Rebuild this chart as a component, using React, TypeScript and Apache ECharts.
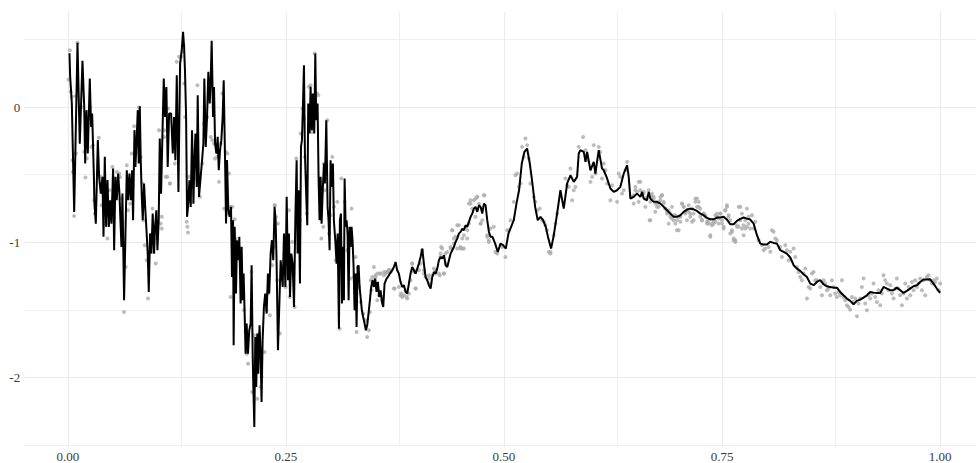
import React, { useEffect, useRef } from "react";
import * as echarts from "echarts";

// Tick labels
const xTickValues = [0, 0.25, 0.5, 0.75, 1];
const yTickValues = [-2, -1, 0];
const xGridValues = [0, 0.125, 0.25, 0.375, 0.5, 0.625, 0.75, 0.875, 1];
const yGridValues = [-2.5, -2, -1.5, -1, -0.5, 0, 0.5];
const xMajor = [0, 0.25, 0.5, 0.75, 1];
const yMajor = [-2, -1, 0];

// Fitted curve, rough (noisy) segment: [x, y]
const roughFit: [number, number][] = [
  [0.0019,0.40],[0.0027,0.224],[0.0046,0.027],[0.0073,-0.775],[0.0111,0.476],[0.0137,-0.27],[0.0168,0.343],[0.0188,0.003],[0.0199,-0.417],[0.0214,-0.022],[0.0229,-0.343],[0.0252,0.212],[0.0267,-0.146],[0.0279,-0.047],[0.0298,-0.491],[0.0305,-0.714],[0.0321,-0.862],[0.0344,-0.244],[0.0359,-0.516],[0.0378,-0.64],[0.0397,-0.516],[0.0409,-0.96],[0.0424,-0.368],[0.0439,-0.886],[0.0455,-0.54],[0.047,-0.886],[0.0485,-0.689],[0.05,-0.862],[0.0519,-0.454],[0.0531,-1.059],[0.0546,-0.516],[0.0561,-0.689],[0.0577,-0.491],[0.0592,-0.64],[0.0603,-0.837],[0.0615,-1.034],[0.0626,-0.64],[0.0645,-1.43],[0.0664,-0.837],[0.0676,-0.467],[0.0691,-0.689],[0.0706,-0.491],[0.0722,-0.689],[0.0737,-0.467],[0.0748,-0.837],[0.0764,-0.17],[0.0775,-0.442],[0.0787,-0.27],[0.0802,-0.022],[0.0813,-0.417],[0.0825,0.007],[0.0836,-0.392],[0.0848,-0.664],[0.0859,-0.837],[0.0874,-0.565],[0.0889,-0.763],[0.0905,-0.948],[0.0916,-1.084],[0.0928,-1.368],[0.0943,-0.935],[0.0958,-1.084],[0.0973,-0.788],[0.0989,-1.084],[0.1,-0.886],[0.1015,-0.763],[0.1027,-1.059],[0.1042,-0.837],[0.1054,-0.232],[0.1069,-0.64],[0.1084,-0.22],[0.11,0.212],[0.1115,-0.072],[0.113,0.15],[0.1145,-0.442],[0.1161,-0.047],
  [0.1184,-0.047],[0.1203,-0.343],[0.1218,-0.072],[0.1233,-0.393],[0.1249,0.237],[0.1268,-0.627],[0.1287,0.323],[0.1306,0.422],[0.1321,0.558],[0.1333,0.447],[0.1344,0.249],[0.1356,-0.072],[0.1367,-0.812],[0.1378,-0.738],[0.1394,-0.541],[0.1409,-0.738],[0.1424,-0.17],[0.144,-0.714],[0.1451,-0.393],[0.1463,-0.195],[0.1478,-0.59],[0.1489,0.089],[0.1504,-0.664],[0.1523,-0.516],[0.1539,-0.393],[0.1554,-0.269],[0.1565,0.212],[0.1581,-0.294],[0.1596,-0.072],[0.1611,0.262],[0.1627,0.027],[0.1638,0.2],[0.1649,0.491],[0.1665,-0.072],[0.1676,0.15],[0.1688,-0.269],[0.1703,-0.343],[0.1718,-0.22],[0.173,-0.467],[0.1745,-0.318],[0.176,-0.244],[0.1775,-0.072],[0.1787,0.2],[0.1802,-0.368],[0.1814,-0.862],[0.1825,-0.392],[0.184,-0.763],[0.1855,-0.812],[0.1871,-0.738],[0.1882,-1.257],[0.1894,-0.837],[0.1901,-1.763],[0.1913,-0.886],[0.1928,-1.38],[0.1939,-0.985],[0.1955,-1.133],[0.1966,-0.96],[0.1981,-1.454],[0.1993,-1.034],[0.2004,-1.43],[0.2015,-1.232],[0.2027,-1.528],[0.2038,-1.825],[0.205,-1.602],[0.2065,-1.825],[0.208,-1.652],[0.2096,-1.602],[0.2107,-1.17],[0.2119,-1.825],[0.2126,-2.047],[0.2138,-2.368],[0.2149,-1.701],[0.216,-2.072],[0.2172,-1.676],[0.2183,-1.973],[0.2198,-1.615],[0.221,-1.825],[0.2221,-2.183],[0.2233,-1.726],[0.2248,-1.479],[0.2263,-1.38],[0.2279,-1.528],[0.2294,-1.232],[0.2309,-1.38],[0.2325,-1.084],[0.234,-0.985],[0.2355,-1.133],[0.237,-0.738],[0.2382,-0.837],[0.2393,-1.133],[0.2409,-1.8],
  [0.244,-1.133],[0.2463,-1.331],[0.2478,-0.936],[0.2494,-1.331],[0.2509,-0.664],[0.2524,-1.281],[0.2535,-0.936],[0.2547,-1.405],[0.2562,-1.084],[0.2577,-1.158],[0.2593,-1.479],[0.2608,-0.837],[0.2623,-0.393],[0.2634,-1.084],[0.2646,-0.615],[0.2661,-1.306],[0.2673,-0.294],[0.2684,-0.244],[0.2695,0.002],[0.2707,0.311],[0.2718,-0.343],[0.273,-0.59],[0.2745,-0.874],[0.2756,0.027],[0.2772,-0.195],[0.2783,0.151],[0.2798,-0.17],[0.281,0.101],[0.2825,-0.195],[0.2837,0.397],[0.2848,-0.096],[0.2863,0.027],[0.2875,-0.541],[0.2886,-0.837],[0.2898,-0.516],[0.2909,-0.862],[0.2924,-0.59],[0.2936,-0.417],[0.2947,-0.565],[0.2963,-0.096],[0.2978,-0.738],[0.2989,-0.837],[0.3001,-1.059],[0.3012,-0.393],[0.3028,-0.59],[0.3039,-0.417],[0.305,-0.837],[0.3066,-0.985],[0.3081,-1.158],[0.3093,-0.936],[0.3108,-1.64],[0.3119,-0.837],[0.3131,-0.788],[0.3142,-1.454],[0.3154,-1.034],[0.3165,-1.43],[0.3173,-0.528],[0.3185,-0.886],[0.3196,-0.837],[0.3207,-0.936],[0.3219,-1.43],[0.323,-0.886],[0.3242,-1.034],[0.3253,-0.886],[0.3264,-0.985],[0.3276,-1.183],[0.3287,-1.504],[0.3299,-1.232],[0.331,-1.627],[0.3322,-1.183],[0.3333,-1.17],[0.3345,-1.331],[0.3356,-1.405],[0.3371,-1.504],[0.3386,-1.553],[0.3402,-1.602],[0.3417,-1.652],[0.3432,-1.615],[0.3447,-1.528],[0.3463,-1.43],[0.3478,-1.331],[0.3493,-1.281],[0.3509,-1.331],[0.3524,-1.269],[0.3539,-1.368],[0.3554,-1.294],[0.357,-1.405],[0.3585,-1.356]
];

// Fitted curve, smooth segment: [x, y]
const smoothFit: [number, number][] = [
  [0.3604,-1.454],[0.3616,-1.479],[0.3631,-1.306],[0.3654,-1.269],[0.3669,-1.257],[0.3692,-1.232],[0.3719,-1.207],[0.3738,-1.183],[0.3757,-1.146],[0.3776,-1.207],[0.3795,-1.232],[0.3814,-1.294],[0.3834,-1.331],[0.3853,-1.319],[0.3872,-1.368],[0.3891,-1.38],[0.391,-1.306],[0.3929,-1.232],[0.3948,-1.183],[0.3967,-1.207],[0.3987,-1.232],[0.4006,-1.195],[0.4025,-1.158],[0.4044,-1.109],[0.4063,-1.047],[0.4082,-1.158],[0.4101,-1.257],[0.412,-1.281],[0.414,-1.319],[0.4159,-1.343],[0.4178,-1.257],[0.4197,-1.22],[0.4216,-1.232],[0.4235,-1.195],[0.4254,-1.133],[0.4273,-1.109],[0.4292,-1.121],[0.4312,-1.096],[0.4331,-1.17],[0.435,-1.183],[0.4369,-1.133],[0.4388,-1.084],[0.4407,-1.059],[0.4426,-1.035],[0.4445,-0.998],[0.4464,-0.973],[0.4483,-0.936],[0.4503,-0.923],[0.4522,-0.899],[0.4541,-0.911],[0.456,-0.874],[0.4579,-0.886],[0.4598,-0.849],[0.4617,-0.812],[0.4636,-0.788],[0.4655,-0.751],[0.4674,-0.738],[0.4694,-0.775],[0.4713,-0.726],[0.4732,-0.738],[0.4751,-0.788],[0.477,-0.714],[0.4789,-0.726],[0.4808,-0.837],[0.4827,-0.923],[0.4846,-0.96],
  [0.4868,-0.96],[0.4899,-1.01],[0.4929,-1.072],[0.496,-1.01],[0.499,-1.022],[0.5021,-1.047],[0.5051,-0.936],[0.5082,-0.886],[0.5112,-0.837],[0.5143,-0.714],[0.5173,-0.615],[0.5204,-0.417],[0.5234,-0.331],[0.5265,-0.306],[0.5296,-0.417],[0.5326,-0.565],[0.5357,-0.738],[0.5387,-0.837],[0.5418,-0.812],[0.5448,-0.837],[0.5479,-0.886],[0.5509,-0.973],[0.554,-1.047],
  [0.5571,-0.948],[0.5609,-0.788],[0.5647,-0.615],[0.5685,-0.751],[0.5724,-0.565],[0.5762,-0.504],[0.58,-0.553],[0.5838,-0.516],[0.5857,-0.343],[0.5876,-0.318],[0.5915,-0.331],[0.5934,-0.405],[0.5953,-0.331],[0.5991,-0.467],[0.6029,-0.405],[0.6048,-0.491],[0.6086,-0.318],[0.6124,-0.454],[0.6144,-0.467],[0.6182,-0.528],[0.622,-0.602],[0.6258,-0.627],[0.6296,-0.615],[0.6334,-0.59],[0.6373,-0.491],[0.6411,-0.43],[0.643,-0.516],[0.6449,-0.677],[0.6487,-0.664],[0.6525,-0.64],[0.6564,-0.664],[0.6583,-0.627],[0.6602,-0.677],[0.664,-0.689],[0.6659,-0.627],[0.6678,-0.677],[0.6716,-0.701],[0.6754,-0.701],[0.6793,-0.714],[0.6831,-0.738],[0.6869,-0.763],[0.6907,-0.788],[0.6945,-0.812],[0.6983,-0.812],[0.7022,-0.8],[0.706,-0.775],[0.7098,-0.758],[0.7136,-0.751],[0.7174,-0.756],[0.7213,-0.768],[0.7251,-0.788],[0.7289,-0.8],[0.7327,-0.82],[0.7365,-0.83],[0.7403,-0.83],[0.7442,-0.817],[0.748,-0.817],[0.7518,-0.812],[0.7556,-0.832],[0.7594,-0.867],[0.7632,-0.867],[0.7671,-0.842],[0.7709,-0.827],[0.7747,-0.817],[0.7785,-0.825],[0.7823,-0.832],
  [0.7862,-0.862],[0.79,-0.948],[0.7938,-1.01],[0.7976,-1.017],[0.8014,-1.017],[0.8053,-0.997],[0.8091,-1.005],[0.8129,-1.01],[0.8167,-1.059],[0.8205,-1.071],[0.8243,-1.084],[0.8282,-1.113],[0.832,-1.17],[0.8358,-1.195],[0.8396,-1.212],[0.8434,-1.237],[0.8473,-1.257],[0.8511,-1.306],[0.8549,-1.318],[0.8587,-1.294],[0.8625,-1.281],[0.8663,-1.311],[0.8702,-1.326],[0.874,-1.331],[0.8778,-1.336],[0.8816,-1.336],[0.8854,-1.368],[0.8892,-1.393],[0.8931,-1.417],[0.8969,-1.434],[0.9007,-1.459],[0.9045,-1.434],[0.9083,-1.425],[0.9122,-1.41],[0.916,-1.393],[0.9198,-1.368],[0.9236,-1.373],[0.9274,-1.375],[0.9313,-1.375],[0.9351,-1.331],[0.9389,-1.343],[0.9427,-1.355],[0.9465,-1.355],[0.9503,-1.336],[0.9542,-1.355],[0.958,-1.375],[0.9618,-1.36],[0.9656,-1.343],[0.9694,-1.326],[0.9733,-1.318],[0.9771,-1.294],[0.9809,-1.276],[0.9847,-1.276],[0.9885,-1.274],[0.9924,-1.306],[0.9962,-1.343],[1.0,-1.375]
];

// Observations, rough segment: [x, y]
const obsRough: [number, number][] = [
  [0.0023,0.422],[0.0008,0.205],[0.0034,0.114],[0.0046,0.077],[0.0053,-0.393],[0.0057,-0.479],[0.0072,-0.805],[0.0092,-0.343],[0.0092,0.082],[0.0111,0.477],[0.0156,0.002],[0.0187,-0.331],[0.0202,-0.521],[0.0218,-0.38],[0.0256,0.002],[0.0271,-0.294],[0.029,-0.281],[0.0302,-0.689],[0.0309,-0.788],[0.0355,-0.227],[0.0378,-0.516],[0.0386,-0.726],[0.0416,-0.541],[0.0435,-0.862],[0.0454,-0.973],[0.0473,-0.615],[0.0511,-0.442],[0.0531,-0.64],[0.0561,-0.479],[0.0588,-0.491],[0.0599,-0.516],[0.0618,-0.676],[0.0626,-0.849],[0.0645,-1.516],[0.0664,-1.183],[0.0676,-0.43],[0.0691,-0.763],[0.0714,-0.714],[0.0733,-0.343],[0.076,-0.141],[0.0779,-0.343],[0.0817,-0.002],[0.0836,-0.368],[0.0855,-0.565],[0.0867,-0.837],[0.0882,-1.022],[0.0905,-1.133],[0.092,-1.417],[0.0951,-0.948],[0.097,-0.751],[0.1008,-1.158],[0.1027,-0.973],[0.1046,-0.17],[0.1065,-0.862],[0.1103,-0.22],[0.1122,-0.516],[0.1149,-0.01],[0.1172,-0.565],
  [0.1077,-0.812],[0.1077,-0.899],[0.1104,-0.17],[0.1142,-0.516],[0.1169,-0.565],[0.1226,-0.417],[0.1249,0.336],[0.1275,0.373],[0.1302,0.373],[0.1314,0.41],[0.1333,0.175],[0.1344,-0.072],[0.1363,-0.849],[0.1371,-0.886],[0.1378,-0.928],[0.139,-0.516],[0.1409,-0.701],[0.1447,-0.393],[0.1478,-0.528],[0.1485,0.163],[0.1516,-0.664],[0.1543,-0.417],[0.1562,-0.121],[0.16,-0.072],[0.1638,-0.22],[0.1657,-0.244],[0.1676,-0.269],[0.1688,-0.38],[0.1714,-0.368],[0.1733,-0.553],[0.1753,-0.269],[0.1772,0.101],[0.181,-0.331],[0.1829,-0.343],[0.1848,-0.491],[0.1791,-0.751],[0.1829,-0.788],[0.1867,-0.738],[0.1867,-1.405],[0.1886,-0.738],[0.1913,-0.83],[0.1924,-0.973],[0.1951,-1.059],[0.1974,-1.084],[0.2001,-1.244],[0.202,-1.504],[0.2039,-1.664],[0.2051,-1.825],[0.2066,-1.899],[0.2104,-1.22],[0.2115,-2.109],[0.2134,-1.689],[0.2172,-2.158],[0.2195,-1.676],[0.221,-2.072],[0.2221,-1.998],[0.2256,-1.812],[0.2279,-1.504],[0.2294,-1.38],[0.2317,-1.541],[0.2344,-1.17],[0.2363,-1.034],[0.2374,-0.726],[0.2386,-0.812],[0.2401,-1.281],
  [0.2371,-0.726],[0.2409,-0.862],[0.243,-1.676],[0.2478,-1.306],[0.2497,-1.331],[0.2535,-0.763],[0.2543,-1.405],[0.2573,-0.998],[0.26,-1.479],[0.2619,-0.38],[0.263,-0.64],[0.2661,-0.837],[0.2669,-0.195],[0.2688,-0.01],[0.2707,-0.084],[0.2715,-0.368],[0.2738,-0.788],[0.2764,0.151],[0.2783,0.163],[0.2802,-0.183],[0.2829,0.397],[0.2859,0.101],[0.2871,0.089],[0.2906,-0.973],[0.2928,-0.886],[0.2936,-0.417],[0.2947,-0.615],[0.2974,-0.096],[0.2993,-0.936],[0.3012,-0.8],[0.3032,-0.368],[0.3051,-0.738],[0.307,-1.133],[0.3089,-0.701],[0.3116,-1.64],[0.3135,-0.528],[0.315,-1.059],[0.3173,-0.701],[0.3204,-1.059],[0.3242,-1.269],[0.3253,-0.751],[0.328,-1.257],[0.3299,-1.109],[0.331,-1.664],[0.3326,-1.183],[0.3337,-1.331],[0.3356,-1.442],[0.3386,-1.528],[0.3413,-1.578],[0.3432,-1.701],[0.3451,-1.652],[0.3463,-1.516],[0.3478,-1.356],[0.3509,-1.281],[0.3528,-1.257],[0.3547,-1.43],[0.3577,-1.232],[0.3604,-1.43],[0.3623,-1.244],[0.3661,-1.22],[0.3684,-1.207]
];

// Observations, smooth segment: [x, y]
const obsSmooth: [number, number][] = [
  [0.3585,-1.232],[0.3624,-1.22],[0.3654,-1.22],[0.3681,-1.207],[0.37,-1.22],[0.3746,-1.343],[0.3795,-1.331],[0.3822,-1.38],[0.3853,-1.393],[0.3883,-1.405],[0.391,-1.38],[0.3948,-1.158],[0.3967,-1.207],[0.3986,-1.343],[0.4044,-1.158],[0.4082,-1.232],[0.4139,-1.244],[0.4158,-1.306],[0.4196,-1.195],[0.4215,-1.232],[0.4265,-1.244],[0.428,-1.035],[0.4311,-1.232],[0.433,-1.084],[0.4273,-1.084],[0.4349,-1.072],[0.4387,-1.035],[0.4406,-0.911],[0.4426,-1.01],[0.4464,-1.047],[0.4502,-1.035],[0.4521,-1.047],[0.454,-0.948],[0.4559,-0.886],[0.4578,-0.973],[0.4597,-0.714],[0.4616,-0.689],[0.4654,-0.689],[0.4673,-0.812],[0.4692,-0.664],[0.4731,-0.862],[0.4776,-0.652],[0.4807,-0.948],[0.4826,-0.985],[0.4845,-0.899],[0.4883,-0.886],[0.4902,-1.072],[0.4922,-1.084],[0.4979,-1.035],[0.5017,-1.109],[0.5036,-0.911],[0.5055,-0.911],[0.5074,-0.837],[0.5112,-0.701],[0.5131,-0.504],[0.515,-0.491],[0.517,-0.59],[0.5189,-0.565],[0.5208,-0.294],[0.5227,-0.368],[0.5246,-0.232],[0.5265,-0.281],[0.5284,-0.38],[0.5303,-0.565],[0.5342,-0.664],[0.5361,-0.701],[0.538,-0.763],[0.541,-0.751],[0.5437,-0.837],[0.5456,-0.849],[0.5475,-0.874],[0.5494,-0.911],[0.5513,-1.072],[0.5532,-1.084],[0.5571,-0.948],[0.559,-0.862],[0.5609,-0.788],
  [0.5533,-1.072],[0.5705,-0.528],[0.5724,-0.578],[0.5743,-0.59],[0.5762,-0.454],[0.5781,-0.689],[0.58,-0.615],[0.5819,-0.59],[0.5857,-0.294],[0.5907,-0.22],[0.5934,-0.318],[0.5953,-0.393],[0.5991,-0.553],[0.601,-0.516],[0.6029,-0.281],[0.6048,-0.491],[0.6086,-0.294],[0.6105,-0.331],[0.6124,-0.528],[0.6144,-0.417],[0.6163,-0.467],[0.6182,-0.565],[0.622,-0.689],[0.6239,-0.578],[0.6296,-0.701],[0.6315,-0.491],[0.6334,-0.516],[0.6392,-0.467],[0.6411,-0.405],[0.6468,-0.664],[0.6487,-0.714],[0.6506,-0.59],[0.6525,-0.627],[0.6544,-0.701],[0.6564,-0.553],[0.6602,-0.627],[0.6621,-0.738],[0.664,-0.664],[0.6678,-0.837],[0.6697,-0.664],[0.6716,-0.677],[0.6754,-0.714],[0.6774,-0.738],[0.6793,-0.664],[0.6812,-0.652],[0.6831,-0.701],[0.685,-0.751],[0.6869,-0.775],[0.6888,-0.862],[0.6907,-0.812],[0.6926,-0.738],[0.6945,-0.837],[0.6964,-0.8],[0.6983,-0.911],[0.7003,-0.812],[0.7022,-0.849],[0.7041,-0.714],[0.706,-0.738],[0.7079,-0.788],[0.7098,-0.837],[0.7117,-0.775],[0.7136,-0.788],[0.7155,-0.751],[0.7174,-0.837],[0.7194,-0.677],[0.7213,-0.738],[0.7232,-0.701],[0.7251,-0.812],[0.727,-0.837],[0.7289,-0.788],[0.7308,-0.8],[0.7327,-0.849],[0.7346,-0.862],[0.7365,-0.96],[0.7384,-0.862],[0.7403,-0.837],[0.7423,-0.849],[0.7442,-0.812],[0.7461,-0.862],[0.748,-0.788],[0.7499,-0.837],[0.7518,-0.886],[0.7537,-0.763],[0.7556,-0.738],[0.7575,-0.812],[0.7594,-0.936],[0.7613,-0.911],[0.7632,-0.985],[0.7652,-0.998],[0.7671,-0.886],[0.769,-0.886],[0.7709,-0.738],[0.7728,-0.899],[0.7747,-0.948],[0.7766,-0.837],[0.7785,-0.886],[0.7804,-0.862],[0.7823,-0.899],
  [0.7843,-0.8],[0.7862,-0.899],[0.7881,-0.849],[0.7919,-0.985],[0.7957,-1.022],[0.7976,-1.059],[0.7995,-1.047],[0.8034,-1.035],[0.8053,-1.071],[0.8072,-0.911],[0.8091,-0.923],[0.811,-0.973],[0.8129,-0.985],[0.8167,-1.035],[0.8186,-1.109],[0.8225,-1.022],[0.8244,-1.059],[0.8263,-1.133],[0.8282,-1.071],[0.832,-1.047],[0.8339,-1.109],[0.8358,-1.183],[0.8377,-1.22],[0.8396,-1.257],[0.8415,-1.281],[0.8434,-1.232],[0.8454,-1.195],[0.8473,-1.417],[0.8492,-1.331],[0.8511,-1.343],[0.853,-1.232],[0.8549,-1.22],[0.8568,-1.281],[0.8587,-1.281],[0.8625,-1.331],[0.8645,-1.393],[0.8664,-1.281],[0.8683,-1.306],[0.8702,-1.355],[0.8721,-1.343],[0.874,-1.393],[0.8759,-1.281],[0.8778,-1.331],[0.8797,-1.38],[0.8816,-1.405],[0.8836,-1.368],[0.8855,-1.393],[0.8874,-1.281],[0.8893,-1.405],[0.8912,-1.43],[0.8931,-1.467],[0.895,-1.479],[0.8969,-1.499],[0.8988,-1.405],[0.9007,-1.442],[0.9027,-1.417],[0.9046,-1.548],[0.9065,-1.454],[0.9084,-1.417],[0.9103,-1.331],[0.9122,-1.269],[0.9141,-1.454],[0.916,-1.504],[0.9179,-1.393],[0.9198,-1.417],[0.9218,-1.38],[0.9237,-1.306],[0.9256,-1.405],[0.9275,-1.442],[0.9294,-1.355],[0.9313,-1.467],[0.9332,-1.38],[0.9351,-1.244],[0.937,-1.281],[0.9389,-1.306],[0.9409,-1.355],[0.9428,-1.318],[0.9447,-1.38],[0.9466,-1.417],[0.9485,-1.343],[0.9504,-1.269],[0.9523,-1.343],[0.9542,-1.393],[0.9561,-1.467],[0.958,-1.38],[0.96,-1.306],[0.9619,-1.417],[0.9638,-1.331],[0.9657,-1.393],[0.9676,-1.294],[0.9695,-1.355],[0.9714,-1.281],[0.9733,-1.331],[0.9752,-1.306],[0.9771,-1.269],[0.9791,-1.355],[0.981,-1.281],[0.9829,-1.393],[0.9848,-1.257],[0.9867,-1.244],[0.9886,-1.281],[0.9905,-1.306],[0.9924,-1.281],[0.9943,-1.294],[0.9962,-1.269],[0.9982,-1.355],[1.0,-1.306]
];

// Extra observations read from closer views: [x, y]
const obsRise: [number, number][] = [
  [0.3471,-1.281],[0.349,-1.257],[0.3509,-1.183],[0.3528,-1.244],[0.3547,-1.232],[0.3566,-1.393],[0.3604,-1.405],[0.3643,-1.232],[0.3662,-1.22],[0.3681,-1.207],[0.3708,-1.207],[0.3738,-1.343],[0.3814,-1.393],[0.3834,-1.405],[0.3872,-1.356],[0.3891,-1.417],[0.3929,-1.281],[0.3948,-1.158],[0.3967,-1.22],[0.3987,-1.343],[0.4025,-1.207],[0.4063,-1.059],[0.4082,-1.207],[0.4101,-1.257],[0.414,-1.269],[0.4178,-1.244],[0.4216,-1.207],[0.4254,-1.232],[0.4273,-1.109],[0.4292,-1.047],[0.4312,-1.232],[0.4331,-1.158],[0.4388,-1.047],[0.4407,-0.911],[0.4426,-0.973],[0.4445,-0.96],[0.4464,-0.874],[0.4483,-0.874],[0.4503,-1.047],[0.4522,-0.973],[0.4541,-1.047],[0.4579,-0.911],[0.4598,-0.862],[0.4617,-0.714],[0.4636,-0.751],[0.4674,-0.677],[0.4694,-0.664],[0.4713,-0.714],[0.4732,-0.862],[0.4751,-0.837],[0.477,-0.652],[0.4808,-0.96],[0.4827,-0.998]
];

const obsPlateau: [number, number][] = [
  [0.6353,-0.64],[0.6372,-0.615],[0.6487,-0.652],[0.6506,-0.615],[0.6544,-0.553],[0.6563,-0.615],[0.6582,-0.652],[0.6601,-0.64],[0.662,-0.677],[0.6659,-0.615],[0.667,-0.837],[0.6678,-0.701],[0.6697,-0.64],[0.6716,-0.664],[0.6735,-0.714],[0.6735,-0.775],[0.6754,-0.738],[0.6773,-0.701],[0.6792,-0.689],[0.6811,-0.652],[0.6831,-0.714],[0.685,-0.751],[0.6869,-0.788],[0.6888,-0.763],[0.6907,-0.788],[0.6926,-0.825],[0.6945,-0.8],[0.6964,-0.862],[0.6983,-0.837],[0.7003,-0.911],[0.7022,-0.812],[0.7041,-0.714],[0.706,-0.738],[0.7079,-0.775],[0.7098,-0.763],[0.7117,-0.726],[0.7136,-0.812],[0.7155,-0.849],[0.7174,-0.788],[0.7194,-0.701],[0.7213,-0.677],[0.7232,-0.738],[0.7251,-0.751],[0.727,-0.837],[0.7289,-0.788],[0.7308,-0.812],[0.7327,-0.862],[0.7346,-0.837],[0.7365,-0.948],[0.7384,-0.874],[0.7404,-0.862],[0.7423,-0.8],[0.7442,-0.788],[0.7461,-0.825],[0.748,-0.788],[0.7499,-0.862],[0.7518,-0.899],[0.7537,-0.763],[0.7556,-0.726],[0.7575,-0.8],[0.7594,-0.837],[0.7613,-0.923],[0.7633,-0.973],[0.7652,-0.985],[0.7671,-0.874],[0.769,-0.738],[0.7709,-0.837],[0.7728,-0.788],[0.7747,-0.874],[0.7766,-0.899],[0.7785,-0.751],[0.7804,-0.812]
];

const FONT = "'Liberation Serif', 'DejaVu Serif', serif";

export default function App() {
  const ref = useRef<HTMLDivElement>(null);
  useEffect(() => {
    if (!ref.current) return;
    const chart = echarts.init(ref.current, undefined, { renderer: "svg" });
    const gridLineData = [
      ...xGridValues.map((v) => ({
        xAxis: v,
        lineStyle: { color: "#ebebeb", width: xMajor.includes(v) ? 1.1 : 0.8, type: "solid" as const },
      })),
      ...yGridValues.map((v) => ({
        yAxis: v,
        lineStyle: { color: "#ebebeb", width: yMajor.includes(v) ? 1.1 : 0.8, type: "solid" as const },
      })),
    ];
    chart.setOption({
      animation: false,
      backgroundColor: "#ffffff",
      grid: { left: 24.2, right: 0, top: 12.1, bottom: 15.9, containLabel: false },
      xAxis: {
        type: "value",
        min: -0.05,
        max: 1.0411,
        axisLine: { show: false },
        axisTick: { show: false },
        splitLine: { show: false },
        axisLabel: {
          customValues: xTickValues,
          formatter: (v: number) => v.toFixed(2),
          fontFamily: FONT,
          fontSize: 13,
          color: "#3a3a3a",
          margin: 3,
        },
      },
      yAxis: {
        type: "value",
        min: -2.516,
        max: 0.704,
        axisLine: { show: false },
        axisTick: { show: false },
        splitLine: { show: false },
        axisLabel: {
          customValues: yTickValues,
          formatter: (v: number) => String(Math.round(v)),
          fontFamily: FONT,
          fontSize: 13,
          color: "#3a3a3a",
          margin: 4,
        },
      },
      series: [
        {
          name: "grid",
          type: "line",
          data: [],
          silent: true,
          z: 0,
          markLine: {
            silent: true,
            symbol: "none",
            label: { show: false },
            z: 0,
            data: gridLineData,
          },
        },
        {
          name: "observed",
          type: "scatter",
          data: [...obsRough, ...obsSmooth, ...obsRise, ...obsPlateau],
          symbol: "circle",
          symbolSize: 4,
          itemStyle: { color: "#ababab" },
          silent: true,
          z: 2,
        },
        {
          name: "fit",
          type: "line",
          data: [...roughFit, ...smoothFit],
          showSymbol: false,
          symbol: "none",
          lineStyle: { color: "#000000", width: 2 },
          silent: true,
          z: 3,
        },
      ],
    });
    return () => chart.dispose();
  }, []);
  return (
    <div
      ref={ref}
      style={{ position: "fixed", left: 0, top: 0, width: 976, height: 463, background: "#fff" }}
    />
  );
}
